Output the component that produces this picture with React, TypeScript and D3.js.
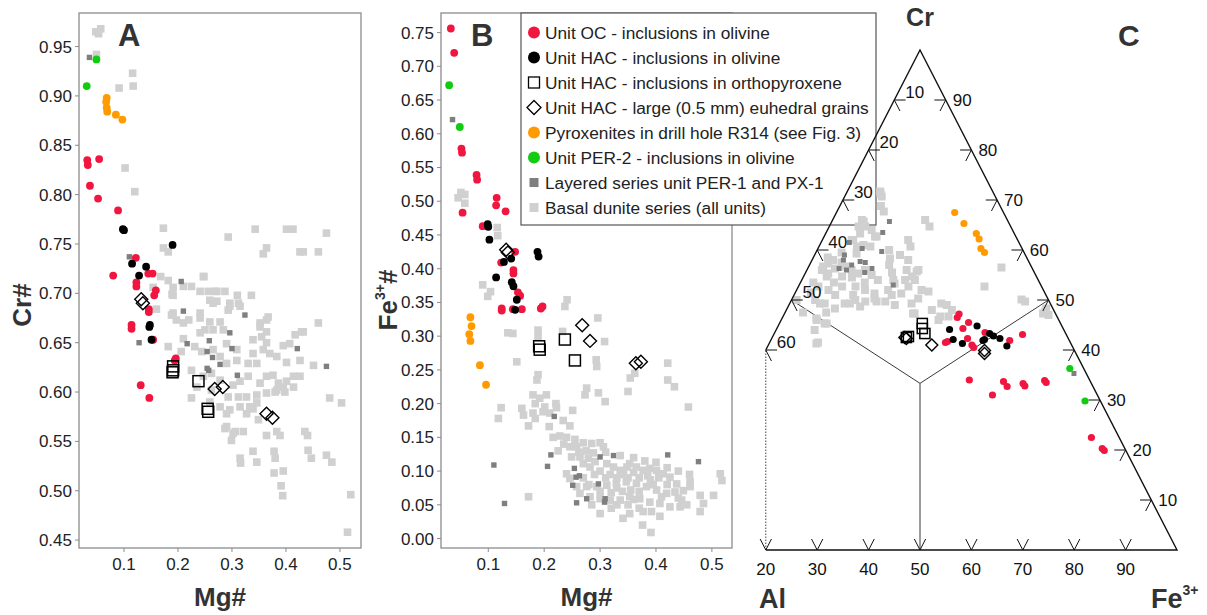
import React from "react";
import * as d3 from "d3";

const FONT = "'Liberation Sans', Arial, Helvetica, sans-serif";

// colours
const RED = "#f0163f";
const ORANGE = "#ff9a00";
const GREEN = "#12cc12";
const LIGHT = "#d0d0d0";
const DARK = "#7f7f7f";

// ---------- panel A : Mg# vs Cr# ----------
const basalA = [
  [0.048, 0.965], [0.057, 0.968], [0.053, 0.963], [0.049, 0.942], [0.116, 0.923], [0.117, 0.910], [0.091, 0.908],
  [0.102, 0.827], [0.120, 0.803], [0.173, 0.766], [0.173, 0.746], [0.182, 0.742], [0.293, 0.757], [0.343, 0.765],
  [0.364, 0.746], [0.358, 0.740], [0.401, 0.765], [0.413, 0.765], [0.426, 0.742], [0.432, 0.742], [0.460, 0.742],
  [0.475, 0.761], [0.168, 0.717], [0.182, 0.713], [0.191, 0.706], [0.210, 0.707], [0.191, 0.698], [0.248, 0.717],
  [0.241, 0.702], [0.269, 0.702], [0.287, 0.702], [0.310, 0.698], [0.336, 0.698], [0.154, 0.706], [0.225, 0.707],
  [0.247, 0.717], [0.189, 0.699], [0.256, 0.702], [0.272, 0.702], [0.259, 0.693], [0.272, 0.692], [0.296, 0.690],
  [0.312, 0.690], [0.293, 0.683], [0.160, 0.684], [0.188, 0.678], [0.197, 0.673], [0.220, 0.673], [0.241, 0.675],
  [0.259, 0.671], [0.278, 0.671], [0.284, 0.663], [0.250, 0.663], [0.265, 0.663], [0.191, 0.680], [0.210, 0.670],
  [0.241, 0.680], [0.265, 0.690], [0.296, 0.687], [0.315, 0.687], [0.339, 0.653], [0.352, 0.670], [0.367, 0.676],
  [0.364, 0.661], [0.355, 0.656], [0.358, 0.643], [0.339, 0.639], [0.383, 0.636], [0.395, 0.647], [0.407, 0.649],
  [0.432, 0.661], [0.460, 0.670], [0.426, 0.616], [0.481, 0.594], [0.503, 0.589], [0.429, 0.661], [0.417, 0.658],
  [0.364, 0.673], [0.352, 0.666], [0.364, 0.650], [0.370, 0.639], [0.401, 0.630], [0.426, 0.632], [0.451, 0.627],
  [0.414, 0.616], [0.395, 0.605], [0.380, 0.600], [0.182, 0.646], [0.206, 0.641], [0.210, 0.654], [0.231, 0.646],
  [0.244, 0.641], [0.241, 0.660], [0.265, 0.643], [0.278, 0.636], [0.290, 0.649], [0.309, 0.643], [0.290, 0.629],
  [0.309, 0.632], [0.330, 0.629], [0.346, 0.629], [0.330, 0.616], [0.315, 0.611], [0.302, 0.607], [0.352, 0.609],
  [0.364, 0.616], [0.376, 0.617], [0.386, 0.609], [0.401, 0.611], [0.414, 0.605], [0.398, 0.600], [0.383, 0.602],
  [0.364, 0.599], [0.346, 0.597], [0.327, 0.595], [0.312, 0.595], [0.293, 0.595], [0.259, 0.590], [0.278, 0.585],
  [0.296, 0.582], [0.315, 0.585], [0.333, 0.585], [0.346, 0.589], [0.225, 0.594], [0.262, 0.602], [0.235, 0.605],
  [0.247, 0.616], [0.225, 0.622], [0.262, 0.619], [0.278, 0.612], [0.290, 0.578], [0.287, 0.563], [0.306, 0.560],
  [0.321, 0.560], [0.299, 0.551], [0.327, 0.578], [0.339, 0.583], [0.349, 0.572], [0.364, 0.556], [0.383, 0.560],
  [0.389, 0.556], [0.435, 0.560], [0.440, 0.556], [0.339, 0.540], [0.346, 0.529], [0.315, 0.533], [0.316, 0.528],
  [0.378, 0.540], [0.380, 0.533], [0.441, 0.541], [0.447, 0.533], [0.475, 0.536], [0.485, 0.529], [0.378, 0.518],
  [0.395, 0.520], [0.391, 0.505], [0.394, 0.495], [0.520, 0.496], [0.514, 0.458], [0.290, 0.565], [0.302, 0.558],
];
const layeredA = [
  [0.036, 0.939], [0.110, 0.737], [0.206, 0.712], [0.210, 0.682], [0.324, 0.678], [0.128, 0.650], [0.217, 0.649],
  [0.258, 0.652], [0.254, 0.641], [0.264, 0.635], [0.278, 0.628], [0.257, 0.622], [0.296, 0.660], [0.300, 0.644],
  [0.310, 0.617], [0.421, 0.644], [0.475, 0.626], [0.254, 0.624],
];
const ocA = [
  [0.032, 0.835], [0.033, 0.830], [0.054, 0.836], [0.037, 0.809], [0.052, 0.796], [0.089, 0.784], [0.122, 0.736],
  [0.080, 0.718], [0.145, 0.720], [0.153, 0.720], [0.123, 0.711], [0.123, 0.707], [0.159, 0.703], [0.156, 0.698],
  [0.146, 0.684], [0.146, 0.681], [0.114, 0.668], [0.114, 0.664], [0.154, 0.653], [0.194, 0.632], [0.196, 0.634],
  [0.131, 0.607], [0.147, 0.594],
];
const hacOlA = [
  [0.100, 0.764], [0.098, 0.765], [0.190, 0.749], [0.115, 0.730], [0.141, 0.727], [0.128, 0.718], [0.147, 0.666],
  [0.148, 0.668], [0.151, 0.653],
];
const pyroxA = [[0.068, 0.898], [0.067, 0.894], [0.068, 0.888], [0.069, 0.884], [0.085, 0.881], [0.097, 0.876]];
const per2A = [[0.049, 0.937], [0.031, 0.910]];
const hacOpxA = [[0.191, 0.626], [0.191, 0.622], [0.190, 0.620], [0.238, 0.611], [0.255, 0.583], [0.256, 0.580]];
const hacLargeA = [[0.132, 0.694], [0.135, 0.690], [0.268, 0.603], [0.283, 0.605], [0.364, 0.578], [0.375, 0.574]];

// ---------- panel B : Mg# vs Fe3+# ----------
const basalB = [
  [0.051, 0.513], [0.058, 0.510], [0.046, 0.505], [0.058, 0.497], [0.116, 0.461], [0.117, 0.449], [0.090, 0.376],
  [0.104, 0.366], [0.099, 0.359], [0.241, 0.354], [0.237, 0.344], [0.135, 0.305], [0.144, 0.304], [0.189, 0.309],
  [0.189, 0.299], [0.233, 0.307], [0.296, 0.327], [0.308, 0.292], [0.151, 0.262], [0.293, 0.265], [0.294, 0.255],
  [0.421, 0.260], [0.189, 0.243], [0.187, 0.235], [0.276, 0.223], [0.273, 0.213], [0.297, 0.216], [0.309, 0.203],
  [0.350, 0.218], [0.354, 0.238], [0.362, 0.245], [0.421, 0.235], [0.433, 0.225], [0.458, 0.195], [0.123, 0.194],
  [0.118, 0.178], [0.160, 0.193], [0.163, 0.183], [0.180, 0.213], [0.184, 0.200], [0.192, 0.208], [0.204, 0.213],
  [0.201, 0.195], [0.198, 0.188], [0.210, 0.186], [0.180, 0.186], [0.184, 0.178], [0.221, 0.200], [0.222, 0.194],
  [0.172, 0.167], [0.209, 0.166], [0.234, 0.175], [0.246, 0.167], [0.251, 0.190], [0.216, 0.150], [0.228, 0.152],
  [0.240, 0.150], [0.255, 0.147], [0.246, 0.136], [0.258, 0.136], [0.270, 0.142], [0.285, 0.141], [0.300, 0.142],
  [0.306, 0.136], [0.249, 0.121], [0.264, 0.121], [0.279, 0.119], [0.240, 0.096], [0.246, 0.089], [0.270, 0.111],
  [0.282, 0.106], [0.291, 0.114], [0.336, 0.123], [0.312, 0.111], [0.324, 0.106], [0.336, 0.101], [0.348, 0.106],
  [0.353, 0.111], [0.365, 0.106], [0.377, 0.101], [0.389, 0.104], [0.401, 0.101], [0.413, 0.096], [0.425, 0.091],
  [0.437, 0.081], [0.461, 0.084], [0.461, 0.077], [0.434, 0.069], [0.449, 0.071], [0.446, 0.057], [0.479, 0.064],
  [0.485, 0.052], [0.479, 0.040], [0.503, 0.064], [0.515, 0.096], [0.518, 0.086], [0.258, 0.077], [0.276, 0.077],
  [0.294, 0.077], [0.312, 0.079], [0.329, 0.082], [0.347, 0.084], [0.365, 0.082], [0.383, 0.077], [0.401, 0.072],
  [0.419, 0.067], [0.264, 0.067], [0.282, 0.062], [0.300, 0.059], [0.318, 0.057], [0.336, 0.057], [0.353, 0.062],
  [0.371, 0.059], [0.389, 0.054], [0.407, 0.052], [0.425, 0.047], [0.443, 0.047], [0.300, 0.037], [0.341, 0.030],
  [0.353, 0.037], [0.377, 0.040], [0.392, 0.040], [0.376, 0.020], [0.391, 0.009], [0.407, 0.033], [0.172, 0.062],
  [0.310, 0.128], [0.330, 0.090], [0.350, 0.090], [0.370, 0.090], [0.390, 0.087], [0.360, 0.120], [0.380, 0.115],
  [0.400, 0.113], [0.420, 0.105], [0.440, 0.100], [0.460, 0.095], [0.270, 0.090], [0.290, 0.095], [0.310, 0.090],
  [0.330, 0.075], [0.370, 0.070], [0.350, 0.050], [0.370, 0.045], [0.320, 0.045], [0.280, 0.080],
  [0.262, 0.128], [0.275, 0.130], [0.288, 0.127], [0.300, 0.100], [0.318, 0.095], [0.342, 0.095], [0.360, 0.098],
  [0.385, 0.093], [0.405, 0.090], [0.420, 0.080], [0.300, 0.070], [0.320, 0.068], [0.340, 0.070], [0.355, 0.072],
  [0.395, 0.080], [0.410, 0.062], [0.440, 0.060], [0.455, 0.050], [0.285, 0.050], [0.330, 0.050], [0.360, 0.058],
  [0.235, 0.140], [0.225, 0.130],
];
const layeredB = [
  [0.036, 0.621], [0.218, 0.181], [0.110, 0.109], [0.129, 0.052], [0.212, 0.124], [0.206, 0.107], [0.254, 0.104],
  [0.263, 0.093], [0.257, 0.091], [0.251, 0.079], [0.300, 0.121], [0.324, 0.123], [0.297, 0.081], [0.276, 0.059],
  [0.258, 0.053], [0.309, 0.059], [0.308, 0.054], [0.421, 0.124], [0.476, 0.114],
];
const ocB = [
  [0.033, 0.756], [0.039, 0.720], [0.052, 0.578], [0.053, 0.572], [0.079, 0.539], [0.080, 0.532], [0.054, 0.483],
  [0.115, 0.505], [0.114, 0.494], [0.131, 0.485], [0.090, 0.463], [0.148, 0.425], [0.123, 0.409], [0.145, 0.398],
  [0.145, 0.393], [0.153, 0.365], [0.157, 0.360], [0.124, 0.341], [0.124, 0.338], [0.144, 0.340], [0.160, 0.340],
  [0.194, 0.341], [0.197, 0.344],
];
const hacOlB = [
  [0.099, 0.466], [0.100, 0.462], [0.102, 0.443], [0.128, 0.410], [0.141, 0.415], [0.188, 0.425], [0.190, 0.418],
  [0.114, 0.387], [0.142, 0.380], [0.145, 0.374], [0.151, 0.354], [0.148, 0.339],
];
const pyroxB = [[0.068, 0.328], [0.070, 0.315], [0.066, 0.303], [0.068, 0.293], [0.085, 0.257], [0.096, 0.228]];
const per2B = [[0.030, 0.672], [0.049, 0.610]];
const hacOpxB = [[0.191, 0.285], [0.192, 0.280], [0.237, 0.295], [0.255, 0.264]];
const hacLargeB = [[0.132, 0.428], [0.135, 0.424], [0.268, 0.316], [0.282, 0.293], [0.364, 0.260], [0.373, 0.262]];

// ---------- panel C : ternary, [Cr, Fe3+] in %, Al = 100 - Cr - Fe3+ ----------
const basalC = [
  [71.3, 6.7], [68.8, 8.0], [67.7, 9.1], [71.7, 6.4], [70.7, 7.2], [66, 18.0], [64.7, 19.5], [66, 5.7], [64.7, 7.0],
  [64.7, 5.7], [64, 8.6], [62.7, 9.9], [65.7, 6.2], [62.7, 10.2], [62, 16.7], [60.7, 17.8], [62, 5.7], [60.7, 7.4],
  [61, 8.5], [60.7, 10.0], [63.3, 6.7], [62, 6.0], [59.3, 8.0], [58.3, 15.0], [59, 16.6], [58, 18.7], [56, 21.7],
  [54.7, 21.1], [54, 20.1], [56, 19.4], [55.7, 21.5], [54, 17.8], [56.5, 37.6], [52.7, 36.2], [50.1, 44.7],
  [47.7, 50.5], [47, 51.5], [47.3, 50.3], [48.3, 50.4], [49.7, 45.6], [57.3, 3.5], [56, 2.9], [55.3, 4.5],
  [56.3, 5.3], [54.7, 7.5], [56.7, 7.1], [56, 8.7], [55.3, 10.3], [56, 11.3], [55, 13.1], [54, 14.8], [56.7, 2.8],
  [58, 4.1], [54.7, 4.5], [52.7, 3.9], [52, 6.2], [52.7, 8.5], [52.7, 11.1], [52, 13.3], [51.3, 15.5], [52, 17.8],
  [53.3, 18.4], [51.3, 20.7], [52.7, 21.4], [54, 22.0], [52, 24.3], [50, 4.6], [49.3, 6.8], [48.3, 9.3],
  [49.3, 10.7], [50, 12.4], [49.7, 14.5], [50.3, 16.0], [49.7, 18.4], [51, 19.0], [49, 20.6], [49.3, 23.7],
  [50.3, 24.5], [51.7, 25.8], [46.3, 6.7], [45.3, 8.8], [41.5, 9.4], [47.3, 25.3], [48, 28.3], [49.3, 29.5],
  [46, 30.6], [48, 32.2], [46.7, 32.2], [50, 1.0], [49.3, 5.9], [46, 6.9], [45.3, 9.2], [41.3, 9.2], [49.3, 11.7],
  [48.7, 14.0], [49.7, 16.7], [47.3, 25.0], [46.7, 30.6], [49, 30.7],
  [53.5, 2.5], [51.5, 3.0], [58.5, 2.8], [59.5, 5.0], [57.5, 6.0], [53.5, 6.5], [51, 8.0], [54.5, 9.5],
  [53.5, 12.5], [51, 11.5], [47.5, 3.5], [47.5, 8.0], [44, 7.5], [60, 14], [57, 15.5], [55.5, 16.8],
];
const layeredC = [
  [65.7, 11.2], [63.5, 11.0], [61.5, 5.5], [60.3, 8.6], [59.7, 12.7], [59, 5.8], [58, 6.1], [57, 8.2], [57.7, 9.5],
  [57.5, 10.6], [56.3, 12.5], [56, 7.7], [55.5, 11.5], [53, 18.3], [56.3, 6.1], [35.3, 62.3],
];
const ocC = [
  [47.2, 34.0], [46.5, 34.0], [45.5, 36.7], [44.3, 36.2], [43.5, 40.9], [42.3, 38.1], [41.0, 39.6], [40.5, 40.2],
  [41.5, 34.2], [41.7, 34.5], [41.9, 46.5], [43.1, 48.4], [34, 42.6], [33.7, 49.4], [32.7, 50.6], [31, 48.6],
  [33.3, 53.4], [32.8, 54.0], [33.9, 57.3], [33.5, 57.8], [22.5, 72.1], [20.3, 75.3], [19.9, 75.9],
];
const hacOlC = [
  [44.1, 33.7], [44.8, 38.7], [42.1, 35.4], [41.3, 37.6], [43.3, 41.9], [42.1, 41.5], [41.9, 41.3], [42.8, 42.9],
  [42.3, 44.4], [40.8, 46.5],
];
const pyroxC = [[67.5, 23.0], [65.3, 25.9], [63.3, 29.3], [62.2, 30.4], [60.3, 31.7], [59.5, 32.8]];
const per2C = [[36.3, 61.0], [29.8, 67.2]];
const hacOpxC = [[45.3, 27.8], [44.3, 28.3], [43.3, 29.3], [42.7, 26.4], [42.5, 26.1]];
const hacLargeC = [[42.5, 25.8], [42.3, 26.2], [41, 31.8], [39.9, 42.6], [39.3, 42.9]];

const legendItems = [
  { kind: "red", label: "Unit OC - inclusions in olivine" },
  { kind: "black", label: "Unit HAC - inclusions in olivine" },
  { kind: "osq", label: "Unit HAC - inclusions in orthopyroxene" },
  { kind: "dia", label: "Unit HAC - large (0.5 mm) euhedral grains" },
  { kind: "orange", label: "Pyroxenites in drill hole R314 (see Fig. 3)" },
  { kind: "green", label: "Unit PER-2 - inclusions in olivine" },
  { kind: "dark", label: "Layered series unit PER-1 and PX-1" },
  { kind: "light", label: "Basal dunite series (all units)" },
];

const ticksA = d3.range(0.45, 0.951, 0.05);
const ticksB = d3.range(0, 0.751, 0.05);
const ticksX = [0.1, 0.2, 0.3, 0.4, 0.5];
const ternTicks = [10, 20, 30, 40, 50, 60, 70, 80, 90];
const leftTicks = [10, 20, 30, 40, 50, 60];
const bottomTicks = [20, 30, 40, 50, 60, 70, 80, 90];

// one marker
function Mark({ kind, x, y, s = 1 }: { kind: string; x: number; y: number; s?: number }) {
  switch (kind) {
    case "light":
      return <rect x={x - 3.8 * s} y={y - 3.8 * s} width={7.6 * s} height={7.6 * s} fill={LIGHT} />;
    case "dark":
      return <rect x={x - 2.7 * s} y={y - 2.7 * s} width={5.4 * s} height={5.4 * s} fill={DARK} />;
    case "red":
      return <circle cx={x} cy={y} r={3.9 * s} fill={RED} />;
    case "black":
      return <circle cx={x} cy={y} r={3.9 * s} fill="#000" />;
    case "orange":
      return <circle cx={x} cy={y} r={3.9 * s} fill={ORANGE} />;
    case "green":
      return <circle cx={x} cy={y} r={3.9 * s} fill={GREEN} />;
    case "osq":
      return (
        <rect x={x - 5.5 * s} y={y - 5.5 * s} width={11 * s} height={11 * s} fill="none" stroke="#000" strokeWidth={1.5} />
      );
    case "dia": {
      const h = 6.5 * s;
      return (
        <path d={`M${x},${y - h}L${x + h},${y}L${x},${y + h}L${x - h},${y}Z`} fill="none" stroke="#000" strokeWidth={1.4} />
      );
    }
    default:
      return null;
  }
}

type Series = { kind: string; pts: number[][] };

function Scatter({
  left, right, top, bottom, xDomain, yDomain, yTicks, series, yLabel, letter, letterX,
}: {
  left: number; right: number; top: number; bottom: number;
  xDomain: number[]; yDomain: number[]; yTicks: number[]; series: Series[];
  yLabel: React.ReactNode; letter: string; letterX: number;
}) {
  const x = d3.scaleLinear().domain(xDomain).range([left, right]);
  const y = d3.scaleLinear().domain(yDomain).range([bottom, top]);
  return (
    <g>
      <rect x={left} y={top} width={right - left} height={bottom - top} fill="#fff" stroke="#8c8c8c" strokeWidth={1.3} />
      {series.map((s, i) => (
        <g key={i}>
          {s.pts.map((p, j) => (
            <Mark key={j} kind={s.kind} x={x(p[0])} y={y(p[1])} />
          ))}
        </g>
      ))}
      {yTicks.map((t) => (
        <g key={t}>
          <line x1={left - 4} x2={left} y1={y(t)} y2={y(t)} stroke="#8c8c8c" />
          <text x={left - 7} y={y(t) + 6} textAnchor="end" fontSize={17} fill="#222">
            {t.toFixed(2)}
          </text>
        </g>
      ))}
      {ticksX.map((t) => (
        <g key={t}>
          <line x1={x(t)} x2={x(t)} y1={bottom} y2={bottom + 4} stroke="#8c8c8c" />
          <text x={x(t)} y={bottom + 22} textAnchor="middle" fontSize={17} fill="#222">
            {t.toFixed(1)}
          </text>
        </g>
      ))}
      <text x={(left + right) / 2} y={606} textAnchor="middle" fontSize={26} fontWeight="bold" fill="#333">
        Mg#
      </text>
      {yLabel}
      <text x={letterX} y={46} fontSize={31} fontWeight="bold" fill="#333">
        {letter}
      </text>
    </g>
  );
}

function Ternary() {
  const tx = d3.scaleLinear().domain([0, 100]).range([663, 1177]);
  const ty = d3.scaleLinear().domain([0, 100]).range([550, 50]);
  const P = (cr: number, fe: number): [number, number] => [tx(fe + cr / 2), ty(cr)];
  const seg = (a: [number, number], b: [number, number]) => `M${a[0]},${a[1]}L${b[0]},${b[1]}`;
  const d = 2.2;
  const c = 100 / 3;
  const series: Series[] = [
    { kind: "light", pts: basalC },
    { kind: "dark", pts: layeredC },
    { kind: "orange", pts: pyroxC },
    { kind: "green", pts: per2C },
    { kind: "red", pts: ocC },
    { kind: "black", pts: hacOlC },
    { kind: "osq", pts: hacOpxC },
    { kind: "dia", pts: hacLargeC },
  ];
  const apex = P(100, 0);
  const feC = P(0, 100);
  const cut0 = P(0, 20);
  const cut1 = P(40, 0);
  return (
    <g>
      {/* inner lines from centre to edge midpoints */}
      <path d={seg(P(c, c), P(50, 0)) + seg(P(c, c), P(50, 50)) + seg(P(c, c), P(0, 50))} stroke="#222" strokeWidth={0.9} fill="none" />
      {series.map((s, i) => (
        <g key={i}>
          {s.pts.map((p, j) => {
            const [px, py] = P(p[0], p[1]);
            return <Mark key={j} kind={s.kind} x={px} y={py} s={s.kind === "light" ? 1.05 : 0.92} />;
          })}
        </g>
      ))}
      <path
        d={`M${cut1[0]},${cut1[1]}L${apex[0]},${apex[1]}L${feC[0]},${feC[1]}L${cut0[0]},${cut0[1]}`}
        stroke="#111" strokeWidth={1.4} fill="none"
      />
      <line x1={cut0[0]} y1={cut0[1]} x2={cut1[0]} y2={cut1[1]} stroke="#444" strokeWidth={1} strokeDasharray="1.5,1.5" />
      {/* right edge ticks (Cr) */}
      {ternTicks.map((v) => {
        const p = P(v, 100 - v);
        return (
          <g key={"r" + v}>
            <path d={seg(p, P(v, 100 - v - d)) + seg(p, P(v - d, 100 - v))} stroke="#111" strokeWidth={1} fill="none" />
            <text x={p[0] + 7} y={p[1] + 6} fontSize={17} fill="#111">{v}</text>
          </g>
        );
      })}
      {/* left edge ticks (Al) */}
      {leftTicks.map((v) => {
        const p = P(100 - v, 0);
        return (
          <g key={"l" + v}>
            <path d={seg(p, P(100 - v, d)) + seg(p, P(100 - v - d, d))} stroke="#111" strokeWidth={1} fill="none" />
            <text x={p[0] + 11} y={p[1] - 2} fontSize={17} fill="#111">{v}</text>
          </g>
        );
      })}
      {/* bottom ticks (Fe3+) */}
      {bottomTicks.map((v) => {
        const p = P(0, v);
        return (
          <g key={"b" + v}>
            <path d={seg(p, P(d, v)) + seg(p, P(d, v - d))} stroke="#111" strokeWidth={1} fill="none" />
            <text x={p[0]} y={575} textAnchor="middle" fontSize={17} fill="#111">{v}</text>
          </g>
        );
      })}
      <text x={apex[0]} y={26} textAnchor="middle" fontSize={25} fontWeight="bold" fill="#333">Cr</text>
      <text x={1118} y={46} fontSize={30} fontWeight="bold" fill="#333">C</text>
      <text x={759} y={608} fontSize={27} fontWeight="bold" fill="#333">Al</text>
      <text x={1151} y={608} fontSize={27} fontWeight="bold" fill="#333">
        Fe<tspan fontSize={14} dy={-13}>3+</tspan>
      </text>
    </g>
  );
}

function Legend() {
  const x0 = 521, y0 = 13;
  return (
    <g>
      <rect x={x0} y={y0} width={355} height={212} fill="#fff" stroke="#555" strokeWidth={1.2} />
      {legendItems.map((it, i) => {
        const cy = 32.5 + i * 25;
        let m: React.ReactNode;
        if (["red", "black", "orange", "green"].includes(it.kind)) {
          const fill = it.kind === "red" ? RED : it.kind === "black" ? "#000" : it.kind === "orange" ? ORANGE : GREEN;
          m = <circle cx={534} cy={cy} r={6} fill={fill} />;
        } else if (it.kind === "osq") {
          m = <rect x={528.5} y={cy - 5.5} width={11} height={11} fill="none" stroke="#000" strokeWidth={1.3} />;
        } else if (it.kind === "dia") {
          m = <path d={`M534,${cy - 7}L541,${cy}L534,${cy + 7}L527,${cy}Z`} fill="none" stroke="#000" strokeWidth={1.3} />;
        } else {
          m = <rect x={529.5} y={cy - 4.5} width={9} height={9} fill={it.kind === "dark" ? DARK : LIGHT} />;
        }
        return (
          <g key={i}>
            {m}
            <text x={545} y={cy + 6} fontSize={17.3} fill="#222">{it.label}</text>
          </g>
        );
      })}
    </g>
  );
}

export default function App() {
  const seriesA: Series[] = [
    { kind: "light", pts: basalA },
    { kind: "dark", pts: layeredA },
    { kind: "orange", pts: pyroxA },
    { kind: "green", pts: per2A },
    { kind: "red", pts: ocA },
    { kind: "black", pts: hacOlA },
    { kind: "osq", pts: hacOpxA },
    { kind: "dia", pts: hacLargeA },
  ];
  const seriesB: Series[] = [
    { kind: "light", pts: basalB },
    { kind: "dark", pts: layeredB },
    { kind: "orange", pts: pyroxB },
    { kind: "green", pts: per2B },
    { kind: "red", pts: ocB },
    { kind: "black", pts: hacOlB },
    { kind: "osq", pts: hacOpxB },
    { kind: "dia", pts: hacLargeB },
  ];
  return (
    <svg
      width={1207}
      height={615}
      style={{ position: "absolute", left: 0, top: 0, fontFamily: FONT, background: "#fff" }}
    >
      <rect width={1207} height={615} fill="#fff" />
      <Scatter
        left={79} right={361} top={13} bottom={548}
        xDomain={[0.0167, 0.539]} yDomain={[0.442, 0.984]} yTicks={ticksA} series={seriesA}
        letter="A" letterX={118}
        yLabel={
          <text transform="translate(31,305) rotate(-90)" textAnchor="middle" fontSize={26} fontWeight="bold" fill="#333">
            Cr#
          </text>
        }
      />
      <Scatter
        left={441} right={732} top={13} bottom={548}
        xDomain={[0.0154, 0.536]} yDomain={[-0.014, 0.779]} yTicks={ticksB} series={seriesB}
        letter="B" letterX={471}
        yLabel={
          <text transform="translate(397,300) rotate(-90)" textAnchor="middle" fontSize={26} fontWeight="bold" fill="#333">
            Fe<tspan fontSize={14} dy={-12}>3+</tspan><tspan dy={12}>#</tspan>
          </text>
        }
      />
      <Legend />
      <Ternary />
    </svg>
  );
}
